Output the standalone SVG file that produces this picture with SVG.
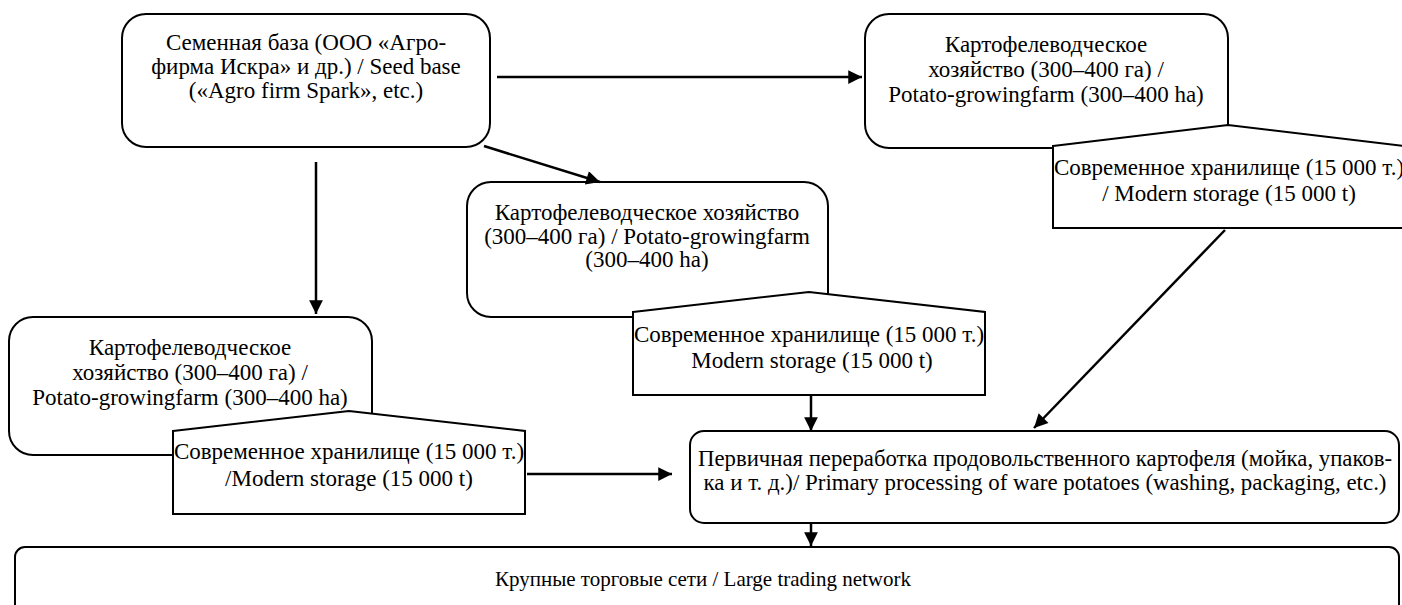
<svg xmlns="http://www.w3.org/2000/svg" width="1402" height="605" viewBox="0 0 1402 605">
<style>
.box{fill:#fff;stroke:#000;stroke-width:2}
.t{font-size:23px;fill:#000;text-anchor:middle}
.c{stroke:#000;stroke-width:2.5;fill:none;marker-end:url(#ah)}
</style>
<defs>
<marker id="ah" viewBox="0 0 10 10" refX="10" refY="5" markerWidth="6.5" markerHeight="5.5" markerUnits="strokeWidth" orient="auto">
<path d="M0,0 L10,5 L0,10 Z" fill="#000"/>
</marker>
</defs>
<rect width="1402" height="605" fill="#fff"/>
<g font-family="'Liberation Serif', 'Times New Roman', 'DejaVu Serif', serif">
<g id="seed">
<rect class="box" x="122" y="14" width="368" height="133" rx="24"/>
<text class="t" x="306" y="50">Семенная база (ООО «Агро-</text>
<text class="t" x="306" y="74">фирма Искра» и др.) / Seed base</text>
<text class="t" x="306" y="98">(«Agro firm Spark», etc.)</text>
</g>

<g id="farm-top">
<rect class="box" x="865" y="14" width="363" height="134" rx="24"/>
<text class="t" x="1046" y="52">Картофелеводческое</text>
<text class="t" x="1046" y="77">хозяйство (300–400 га) /</text>
<text class="t" x="1046" y="102">Potato-growingfarm (300–400 ha)</text>
</g>
<g id="storage-top">
<path class="box" d="M1053,146 L1228,125 L1405,146 L1405,228 L1053,228 Z"/>
<text class="t" x="1229" y="175">Современное хранилище (15 000 т.)</text>
<text class="t" x="1229" y="201">/ Modern storage (15 000 t)</text>
</g>

<g id="farm-mid">
<rect class="box" x="467" y="182" width="361" height="135" rx="24"/>
<text class="t" x="647" y="220">Картофелеводческое хозяйство</text>
<text class="t" x="647" y="244">(300–400 га) / Potato-growingfarm</text>
<text class="t" x="647" y="267">(300–400 ha)</text>
</g>
<g id="storage-mid">
<path class="box" d="M633,312 L809,292 L985,312 L985,395 L633,395 Z"/>
<text class="t" x="809" y="342">Современное хранилище (15 000 т.)</text>
<text class="t" x="812" y="368">Modern storage (15 000 t)</text>
</g>

<g id="farm-left">
<rect class="box" x="9" y="317" width="363" height="138" rx="24"/>
<text class="t" x="190" y="355">Картофелеводческое</text>
<text class="t" x="190" y="380">хозяйство (300–400 га) /</text>
<text class="t" x="190" y="405">Potato-growingfarm (300–400 ha)</text>
</g>
<g id="storage-left">
<path class="box" d="M173,431 L349,411 L525,431 L525,514 L173,514 Z"/>
<text class="t" x="349" y="459">Современное хранилище (15 000 т.)</text>
<text class="t" x="349" y="486">/Modern storage (15 000 t)</text>
</g>

<g id="processing">
<rect class="box" x="690" y="431" width="709" height="92" rx="14"/>
<text class="t" x="1045" y="466" textLength="694" lengthAdjust="spacingAndGlyphs">Первичная переработка продовольственного картофеля (мойка, упаков-</text>
<text class="t" x="1045" y="490" textLength="683" lengthAdjust="spacingAndGlyphs">ка и т. д.)/ Primary processing of ware potatoes (washing, packaging, etc.)</text>
</g>

<g id="trading">
<rect class="box" x="15" y="547" width="1384" height="80" rx="10"/>
<text class="t" x="703" y="586" style="font-size:21px">Крупные торговые сети / Large trading network</text>
</g>
</g>
<g id="connectors">
<line class="c" x1="497" y1="77" x2="862" y2="77"/>
<line class="c" x1="484" y1="146" x2="600" y2="182"/>
<line class="c" x1="316" y1="162" x2="316" y2="314"/>
<line class="c" x1="811" y1="396" x2="811" y2="431"/>
<line class="c" x1="1225" y1="230" x2="1034" y2="428"/>
<line class="c" x1="527" y1="474" x2="672" y2="474"/>
<line class="c" x1="811" y1="523" x2="811" y2="546"/>
</g>
</svg>
